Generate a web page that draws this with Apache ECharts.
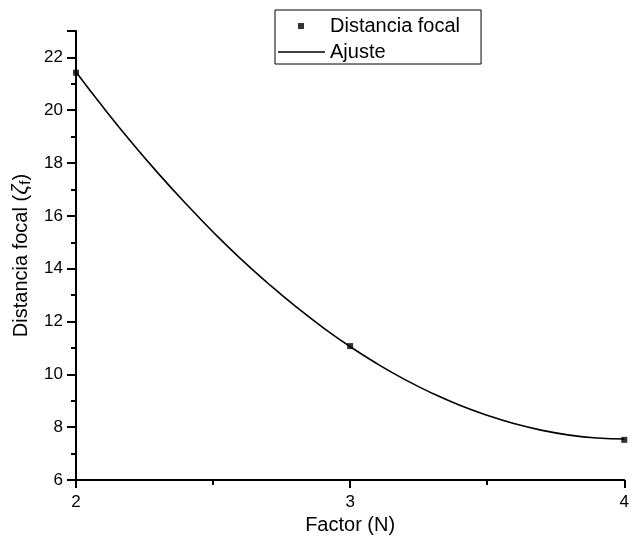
<!DOCTYPE html>
<html>
<head>
<meta charset="utf-8">
<script src="https://cdn.jsdelivr.net/npm/echarts@6/dist/echarts.min.js"></script>
<style>html,body{margin:0;padding:0;background:#fff;}#c{width:632px;height:542px;}</style>
</head>
<body>
<div id="c"></div>
<script>
// Measured data points (Factor N, focal distance)
const pointX = [2, 3, 4];
const pointY = [21.42, 11.07, 7.52];
// Fit curve
const fitX = [2.0, 2.1, 2.2, 2.3, 2.4, 2.5, 2.6, 2.7, 2.8, 2.9, 3.0, 3.1, 3.2, 3.3, 3.4, 3.5, 3.6, 3.7, 3.8, 3.9, 4.0];
const fitY = [21.45, 20.10, 18.82, 17.61, 16.47, 15.39, 14.38, 13.45, 12.58, 11.78, 11.05, 10.39, 9.80, 9.28, 8.83, 8.45, 8.13, 7.88, 7.70, 7.59, 7.55];
const seriesNames = ['Distancia focal', 'Ajuste'];
const xTitle = 'Factor (N)';

const FONT = '"Liberation Sans", Arial, sans-serif';
const chart = echarts.init(document.getElementById('c'), null, {renderer: 'canvas'});
chart.setOption({
  animation: false,
  backgroundColor: '#fff',
  grid: {left: 76, right: 5, top: 31, bottom: 62, containLabel: false},
  legend: {
    orient: 'vertical',
    left: 275, top: 10,
    padding: [6, 21, 2, 3],
    borderColor: '#000', borderWidth: 1,
    itemWidth: 47, itemHeight: 20, itemGap: 6,
    textStyle: {fontFamily: FONT, fontSize: 20, color: '#000', padding: 0},
    data: [
      {name: seriesNames[0], icon: 'path://M0,0M47,20M20,7h6v6h-6z'},
      {name: seriesNames[1], icon: 'path://M0,0M47,20M0,9.3h47v1.4h-47z'}
    ]
  },
  xAxis: {
    type: 'value', min: 2, max: 4, interval: 1,
    name: xTitle, nameLocation: 'middle', nameGap: 35,
    nameTextStyle: {fontFamily: FONT, fontSize: 20, color: '#000'},
    axisLine: {show: true, onZero: false, lineStyle: {color: '#000', width: 2}},
    axisTick: {show: true, inside: false, length: 8, lineStyle: {color: '#000', width: 2}},
    minorTick: {show: true, splitNumber: 2, length: 5, lineStyle: {color: '#000', width: 2}},
    splitLine: {show: false},
    axisLabel: {fontFamily: FONT, fontSize: 17, color: '#000', margin: 14}
  },
  yAxis: {
    type: 'value', min: 6, max: 23, interval: 2,
    name: '{a|Distancia focal (}{z|ζ}{s|f}{a|)}', nameLocation: 'middle', nameGap: 43,
    nameTextStyle: {
      fontFamily: FONT, fontSize: 20, color: '#000',
      rich: {
        a: {fontFamily: FONT, fontSize: 20, color: '#000'},
        z: {fontFamily: FONT, fontSize: 22, fontStyle: 'italic', color: '#000'},
        s: {fontFamily: FONT, fontSize: 15, color: '#000', verticalAlign: 'bottom', padding: [9, 0, 0, 0]}
      }
    },
    axisLine: {show: true, onZero: false, lineStyle: {color: '#000', width: 2}},
    axisTick: {show: true, inside: false, length: 9, lineStyle: {color: '#000', width: 2}},
    minorTick: {show: true, splitNumber: 2, length: 5, lineStyle: {color: '#000', width: 2}},
    splitLine: {show: false},
    axisLabel: {fontFamily: FONT, fontSize: 17, color: '#000', margin: 13, showMaxLabel: false}
  },
  series: [
    {
      name: seriesNames[0], type: 'scatter', symbol: 'rect', symbolSize: 6,
      itemStyle: {color: '#000'},
      data: pointX.map((x, i) => [x, pointY[i]]),
      z: 3
    },
    {
      name: seriesNames[1], type: 'line', smooth: true, showSymbol: false, symbol: 'none',
      lineStyle: {color: '#000', width: 1.6},
      itemStyle: {color: '#000'},
      data: fitX.map((x, i) => [x, fitY[i]]),
      z: 2
    }
  ]
});
</script>
</body>
</html>
